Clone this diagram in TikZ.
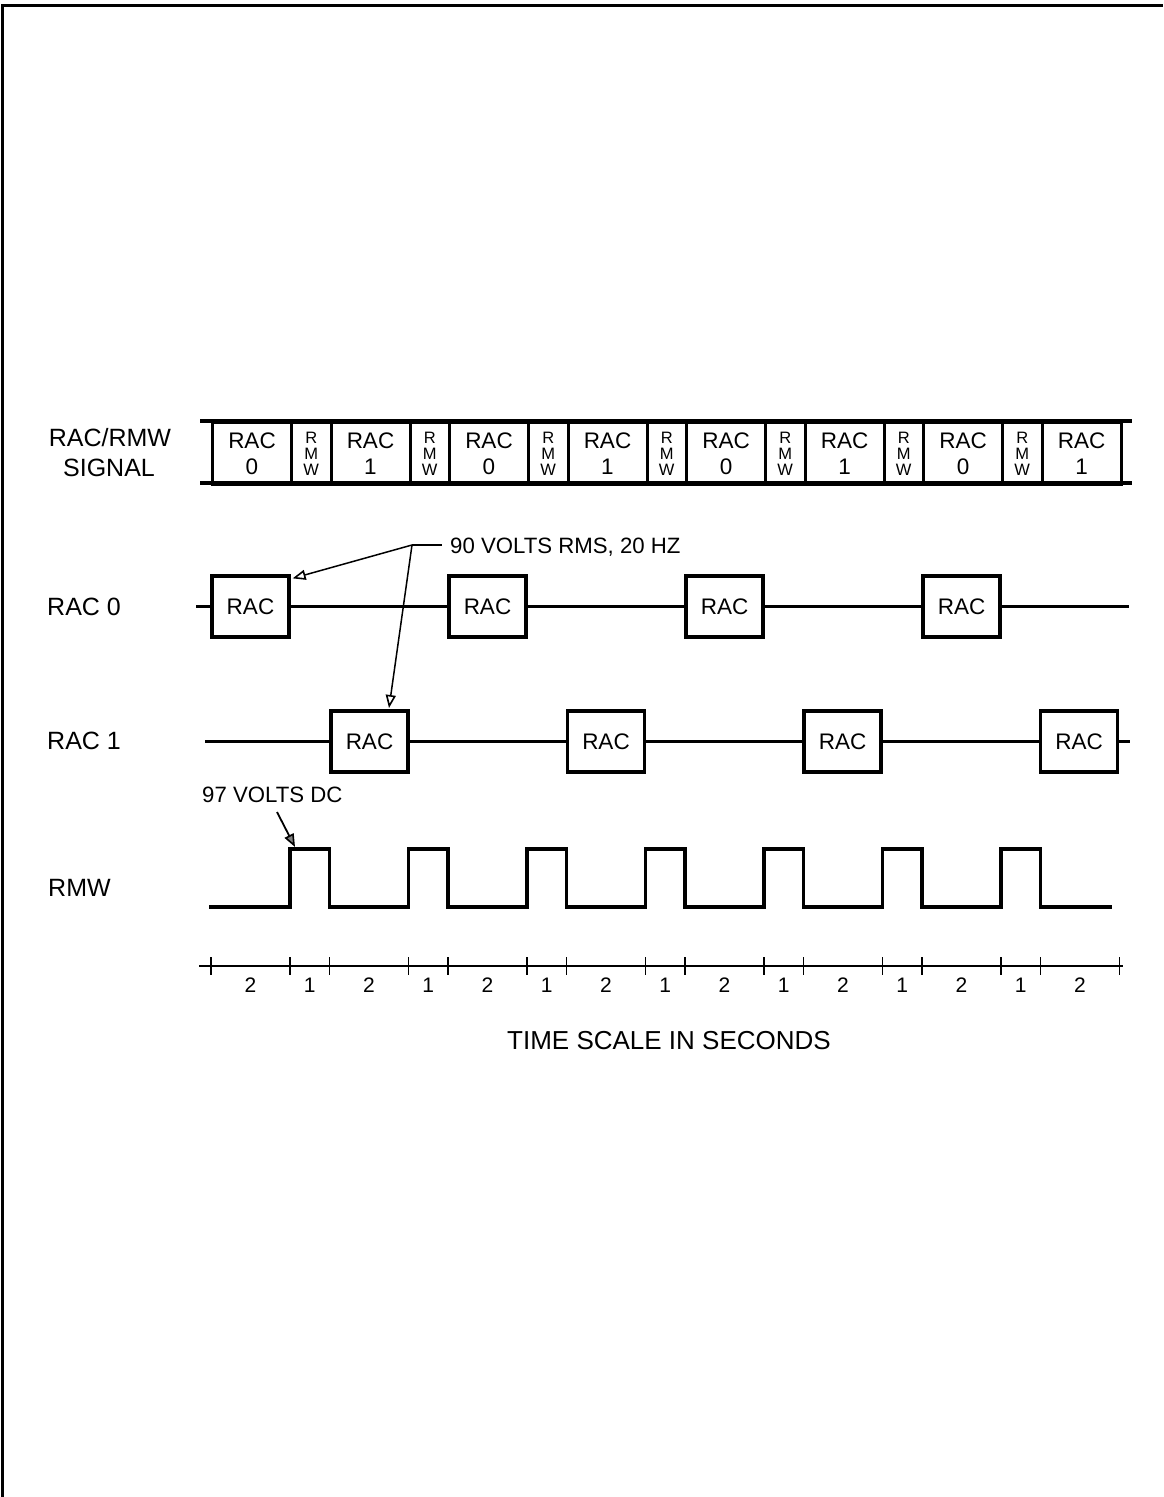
\documentclass[tikz,border=0pt]{standalone}
\usepackage{fontspec}
\setmainfont{Liberation Sans}
\usetikzlibrary{arrows.meta,calc}
\begin{document}
\begin{tikzpicture}[x=1pt,y=-1pt,
  sig/.style={draw,line width=3pt,inner sep=0pt,anchor=north west,minimum height=62pt,align=center},
  raccell/.style={sig,minimum width=79pt,font=\fontsize{22.5}{26}\selectfont},
  rmwcell/.style={sig,minimum width=39.5pt,font=\fontsize{16.5}{16}\selectfont},
  racbox/.style={draw,line width=3.3pt,inner sep=0pt,minimum width=77pt,minimum height=61pt,font=\fontsize{22.5}{24}\selectfont},
  wire/.style={line width=3.3pt},
  tick/.style={line width=1.6pt},
  lbl/.style={inner sep=0pt,anchor=base west,font=\fontsize{25}{30}\selectfont},
  note/.style={inner sep=0pt,anchor=base west,font=\fontsize{22.2}{24}\selectfont},
  digit/.style={inner sep=0pt,anchor=base,font=\fontsize{21}{24}\selectfont},
  pointer/.style={line width=1.5pt,-{Triangle[open,length=13pt,width=10pt,line width=1.6pt]}},
]
\useasboundingbox (0,0) rectangle (1163,1497);
% page border
\draw[line width=3.5pt] (2.5,1497) -- (2.5,5.5) -- (1163,5.5);

% left labels
\node[lbl,anchor=base] (lsig1) at (110,446) {RAC/RMW};
\node[lbl,anchor=base] (lsig2) at (109,476) {SIGNAL};
\node[lbl] (lrac0) at (47,615) {RAC 0};
\node[lbl] (lrac1) at (47,749) {RAC 1};
\node[lbl] (lrmw) at (48,896) {RMW};

% RAC/RMW signal bar
\coordinate (btl) at (200,421);
\coordinate (btr) at (1132,421);
\coordinate (bbl) at (200,483);
\coordinate (bbr) at (1132,483);
\draw[wire] (btl) -- (btr);
\draw[wire] (bbl) -- (bbr);
\foreach \i in {0,...,7}{
  \pgfmathsetmacro\xa{211+\i*118.5}
  \pgfmathtruncatemacro\d{mod(\i,2)}
  \node[raccell] (sr\i) at (\xa,421) {RAC\\\d};
}
\foreach \i in {0,...,6}{
  \pgfmathsetmacro\xb{290+\i*118.5}
  \node[rmwcell] (sm\i) at (\xb,421) {R\\M\\W};
}

% RAC 0 row
\foreach \i in {0,...,3}{
  \node[racbox] (a\i) at ({250.5+\i*237},606.5) {RAC};
}
\coordinate (a0s) at (196,606.5);
\coordinate (a0e) at (1129,606.5);
\draw[wire] (a0s) -- (a0.west);
\foreach \i/\j in {0/1,1/2,2/3} \draw[wire] (a\i.east) -- (a\j.west);
\draw[wire] (a3.east) -- (a0e);

% RAC 1 row
\foreach \i in {0,...,3}{
  \node[racbox] (b\i) at ({369.5+\i*236.5},741.5) {RAC};
}
\coordinate (b0s) at (205,741.5);
\coordinate (b0e) at (1130,741.5);
\draw[wire] (b0s) -- (b0.west);
\foreach \i/\j in {0/1,1/2,2/3} \draw[wire] (b\i.east) -- (b\j.west);
\draw[wire] (b3.east) -- (b0e);

% annotation 90 V
\node[note] (n90) at (450,553) {90 VOLTS RMS, 20 HZ};
\coordinate (lead) at (412,545);
\draw[line width=1.5pt] (lead) -- ($(n90.base west)+(-8,-8)$);
\draw[pointer] (lead) -- ($(a0.north east)+(2,4)$);
\coordinate (tip2) at (389,708);
\draw[pointer] (lead) -- (tip2);

% RMW waveform
\draw[wire,line join=miter] (209,907)
  \foreach \i in {0,...,6}{ -- ({290+\i*118.5},907) -- ({290+\i*118.5},849) -- ({329.5+\i*118.5},849) -- ({329.5+\i*118.5},907) }
  -- (1112,907);

% annotation 97 V
\node[note] (n97) at (202,802) {97 VOLTS DC};
\coordinate (t97s) at (277,812);
\coordinate (t97e) at (295,847);
\draw[line width=1.8pt,-{Triangle[open,length=13pt,width=10pt,line width=1.6pt,fill=gray]}] (t97s) -- (t97e);

% time scale
\coordinate (tsl) at (199,966);
\coordinate (tsr) at (1123,966);
\draw[line width=2.6pt] (tsl) -- (tsr);
\foreach \i in {0,...,7}{
  \draw[tick] ({211+\i*118.5},957) -- ({211+\i*118.5},975);
  \node[digit] at ({250.5+\i*118.5},992) {2};
}
\foreach \i in {0,...,6}{
  \draw[tick] ({290+\i*118.5},957) -- ({290+\i*118.5},975);
  \node[digit] at ({309.75+\i*118.5},992) {1};
}
\draw[tick] (1119.5,957) -- (1119.5,975);
\node[lbl,anchor=base,font=\fontsize{26}{30}\selectfont] (tscale) at (669,1049) {TIME SCALE IN SECONDS};
\end{tikzpicture}
\end{document}
